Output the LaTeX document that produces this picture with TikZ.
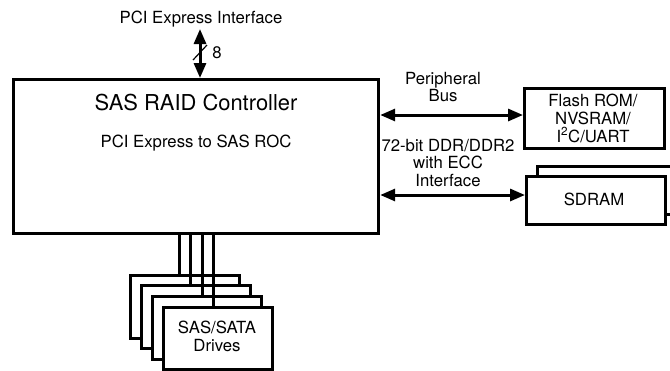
\documentclass[tikz,border=0pt]{standalone}
\usepackage{fontspec}
\setmainfont{TeX Gyre Heros}
\usetikzlibrary{arrows.meta,calc}
\begin{document}
\begin{tikzpicture}[x=1bp,y=-1bp,
  box/.style={draw,line width=3.2bp,fill=white,inner sep=0pt,anchor=north west},
  lbl/.style={font=\fontsize{16.8}{18}\selectfont,align=center,inner sep=0pt},
  big/.style={font=\fontsize{22}{24}\selectfont,inner sep=0pt},
  wire/.style={line width=3bp},
  biarrow/.style={line width=3bp,{Triangle[length=15bp,width=12bp]}-{Triangle[length=15bp,width=12bp]}}]
\useasboundingbox (0,0) rectangle (670,370);
\begin{scope}
\clip (0,0) rectangle (670,370);
% main controller
\node[box,minimum width=365bp,minimum height=154bp] (main) at (12,78) {};
\node[big] (title) at (196,103) {SAS RAID Controller};
\node[lbl] (sub) at (196,143) {PCI Express to SAS ROC};
% PCI Express
\node[lbl] (pcilbl) at (201,19) {PCI Express Interface};
\coordinate (pcitop) at (200,29);
\draw[biarrow] (pcitop) -- (pcitop |- main.north);
\coordinate (sl1) at (193,60);
\coordinate (sl2) at (207,45);
\draw[line width=1.2bp] (sl1) -- (sl2);
\node[lbl] (eight) at (217,53) {8};
% flash
\node[box,minimum width=140bp,minimum height=60bp] (flash) at (523,87) {};
\node[lbl] (flashtxt) at (593,118) {Flash ROM/\\NVSRAM/\\I\textsuperscript{2}C/UART};
% sdram
\node[box,minimum width=140bp,minimum height=48bp] (sdramback) at (536,165) {};
\node[box,minimum width=139bp,minimum height=48bp] (sdram) at (525,175) {};
\node[lbl] (sdramtxt) at (594,199) {SDRAM};
% bus arrows
\coordinate (pb) at (450,115);
\draw[biarrow] (main.east |- pb) -- (flash.west |- pb);
\node[lbl] (pblbl) at (443,87) {Peripheral\\Bus};
\coordinate (ddr) at (450,195);
\draw[biarrow] (main.east |- ddr) -- (sdram.west |- ddr);
\node[lbl] (ddrlbl) at (448,163) {72-bit DDR/DDR2\\with ECC\\Interface};
% drives
\node[box,minimum width=109bp,minimum height=63bp] (drive1) at (129,274) {};
\node[box,minimum width=109bp,minimum height=63bp] (drive2) at (140,284) {};
\node[box,minimum width=109bp,minimum height=63bp] (drive3) at (151,295) {};
\node[box,minimum width=109bp,minimum height=62bp] (drive4) at (162,306) {};
\node[lbl] (drivetxt) at (217,336) {SAS/SATA\\Drives};
\coordinate (l1) at (179,0);
\coordinate (l2) at (190,0);
\coordinate (l3) at (202,0);
\coordinate (l4) at (213,0);
\draw[wire] (main.south -| l1) -- (drive1.north -| l1);
\draw[wire] (main.south -| l2) -- (drive2.north -| l2);
\draw[wire] (main.south -| l3) -- (drive3.north -| l3);
\draw[wire] (main.south -| l4) -- (drive4.north -| l4);
\end{scope}
\end{tikzpicture}
\end{document}
